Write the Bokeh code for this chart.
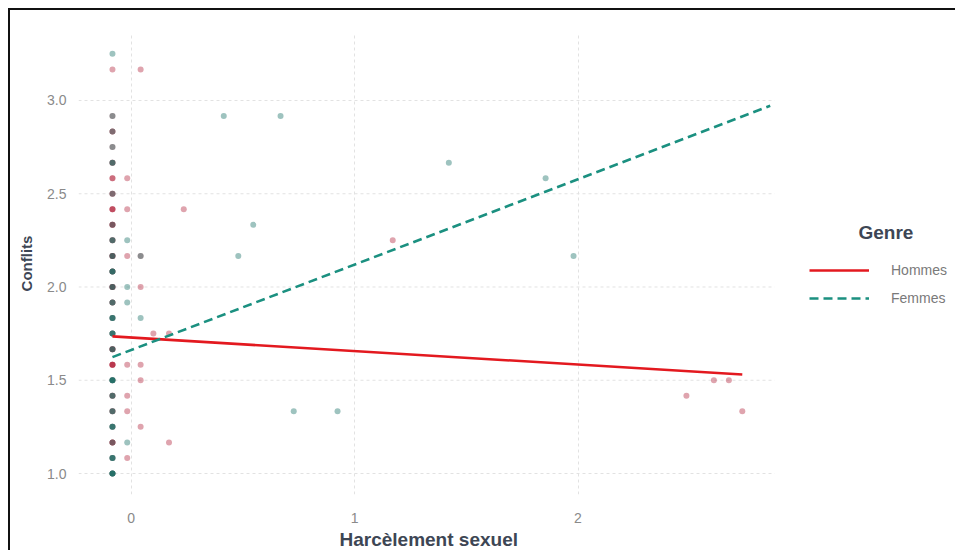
import numpy as np
from bokeh.plotting import figure
from bokeh.models import Range1d, FixedTicker, Legend, LegendItem, Label, Title
from bokeh.embed import file_html
from bokeh.resources import INLINE

# ---- data ----
x_ticks = [0, 1, 2]
y_ticks = [1.0, 1.5, 2.0, 2.5, 3.0]
y_tick_labels = ["1.0", "1.5", "2.0", "2.5", "3.0"]

# points stacked on the leftmost value of "Harcèlement sexuel"
left_x = -0.083
left_levels = [3.25, 3.1667, 2.9167, 2.8333, 2.75, 2.6667, 2.5833, 2.5, 2.4167, 2.3333,
               2.25, 2.1667, 2.0833, 2.0, 1.9167, 1.8333, 1.75, 1.6667, 1.5833, 1.5,
               1.4167, 1.3333, 1.25, 1.1667, 1.0833, 1.0]
left_hommes = [0, 1, 1, 2, 1, 2, 2, 2, 3, 3, 2, 3, 2, 3, 2, 1, 1, 3, 4, 1, 2, 2, 1, 3, 1, 1]
left_femmes = [1, 0, 1, 1, 1, 2, 0, 1, 0, 1, 2, 2, 3, 2, 2, 3, 3, 2, 0, 4, 2, 2, 3, 1, 3, 4]

# other points
hommes_x = [0.043, -0.017, -0.017, 0.236, -0.017, 0.043, 0.043, 0.10, 0.17, -0.017, 0.043,
            0.043, -0.017, -0.017, 0.043, 0.17, -0.017, 1.171, 2.608, 2.675, 2.485, 2.735]
hommes_y = [3.1667, 2.5833, 2.4167, 2.4167, 2.1667, 2.1667, 2.0, 1.75, 1.75, 1.5833, 1.5833,
            1.5, 1.4167, 1.3333, 1.25, 1.1667, 1.0833, 2.25, 1.5, 1.5, 1.4167, 1.3333]
femmes_x = [0.415, 0.669, 1.422, 1.855, 0.547, -0.017, 0.043, 0.48, 1.98, -0.017, -0.017,
            0.043, 0.728, 0.924, -0.017]
femmes_y = [2.9167, 2.9167, 2.6667, 2.5833, 2.3333, 2.25, 2.1667, 2.1667, 2.1667, 2.0, 1.9167,
            1.8333, 1.3333, 1.3333, 1.1667]

# fitted lines
hommes_fit_x = [-0.083, 2.735]
hommes_fit_y = [1.735, 1.531]
femmes_fit_x = [-0.083, 2.86]
femmes_fit_y = [1.624, 2.972]

genres = ["Hommes", "Femmes"]
legend_title = "Genre"
x_title = "Harcèlement sexuel"
y_title = "Conflits"

# panel extent in data units (ggplot-like panel, legend sits to its right)
panel_x = (-0.235, 2.88)
panel_y = (0.8874, 3.3646)

# ---- build point arrays ----
hx = np.concatenate([np.full(sum(left_hommes), left_x), hommes_x])
hy = np.concatenate([np.repeat(left_levels, left_hommes), hommes_y])
fx = np.concatenate([np.full(sum(left_femmes), left_x), femmes_x])
fy = np.concatenate([np.repeat(left_levels, left_femmes), femmes_y])

FONT = "Liberation Sans"
C_H_PT = "#b01c35"
C_F_PT = "#0d6a60"
C_H_LN = "#e3191f"
C_F_LN = "#1b9080"
GRID = "#e2e2e2"
TITLE_C = "#3d4654"

p = figure(width=945, height=540, output_backend="svg", toolbar_location=None,
           x_range=Range1d(panel_x[0], 3.689), y_range=Range1d(*panel_y),
           min_border_left=68, min_border_top=22, min_border_bottom=56, min_border_right=0,
           frame_width=877, frame_height=462)
p.styles = {"margin-left": "8px", "margin-top": "8px",
            "border-top": "2px solid #111", "border-left": "2px solid #111"}
p.outline_line_color = None
p.background_fill_color = "white"
p.border_fill_color = "white"

for ax in (p.xaxis[0], p.yaxis[0]):
    ax.axis_line_color = None
    ax.major_tick_line_color = None
    ax.minor_tick_line_color = None
    ax.major_label_text_font = FONT
    ax.major_label_text_font_size = "14px"
    ax.major_label_text_color = "#8a8a8a"
    ax.axis_label_text_font = FONT
    ax.axis_label_text_font_style = "bold"
    ax.axis_label_text_color = TITLE_C

p.xaxis.ticker = FixedTicker(ticks=x_ticks)
p.yaxis.ticker = FixedTicker(ticks=y_ticks)
p.yaxis.major_label_overrides = {t: l for t, l in zip(y_ticks, y_tick_labels)}
p.yaxis.axis_label = y_title
p.yaxis.axis_label_text_font_size = "15px"
p.xaxis.major_label_standoff = 12
p.yaxis.major_label_standoff = 6
p.yaxis.axis_label_standoff = 9

# x title centred under the data panel (not under the legend area)
p.add_layout(Title(text=x_title, align="left", offset=261, standoff=2,
                   text_font=FONT, text_font_size="19px", text_font_style="bold",
                   text_color=TITLE_C), "below")

# vertical grid lines from the ticker, horizontal ones limited to the panel
p.xgrid.grid_line_color = GRID
p.xgrid.grid_line_dash = "3 3"
p.ygrid.visible = False
p.segment(x0=[panel_x[0]] * len(y_ticks), x1=[panel_x[1]] * len(y_ticks),
          y0=y_ticks, y1=y_ticks, line_color=GRID, line_dash="3 3", line_width=1)

p.scatter(hx, hy, size=6, marker="circle", fill_color=C_H_PT, line_color=None, fill_alpha=0.4)
p.scatter(fx, fy, size=6, marker="circle", fill_color=C_F_PT, line_color=None, fill_alpha=0.4)

r_h = p.line(hommes_fit_x, hommes_fit_y, line_color=C_H_LN, line_width=2.6)
r_f = p.line(femmes_fit_x, femmes_fit_y, line_color=C_F_LN, line_width=2.6, line_dash="9 5")

legend = Legend(items=[LegendItem(label=genres[0], renderers=[r_h]),
                       LegendItem(label=genres[1], renderers=[r_f])],
                location=(731, 186), padding=0, margin=0, spacing=8,
                glyph_width=60, glyph_height=20, label_standoff=22,
                label_text_font=FONT, label_text_font_size="14px",
                label_text_color="#7a7a7a", border_line_color=None,
                background_fill_alpha=0)
p.add_layout(legend)

p.add_layout(Label(x=780, y=262, x_units="screen", y_units="screen", text=legend_title,
                   text_font=FONT, text_font_size="19px", text_font_style="bold",
                   text_color=TITLE_C, text_baseline="middle", text_align="left"))

open("out.html", "w").write(file_html(p, INLINE))
